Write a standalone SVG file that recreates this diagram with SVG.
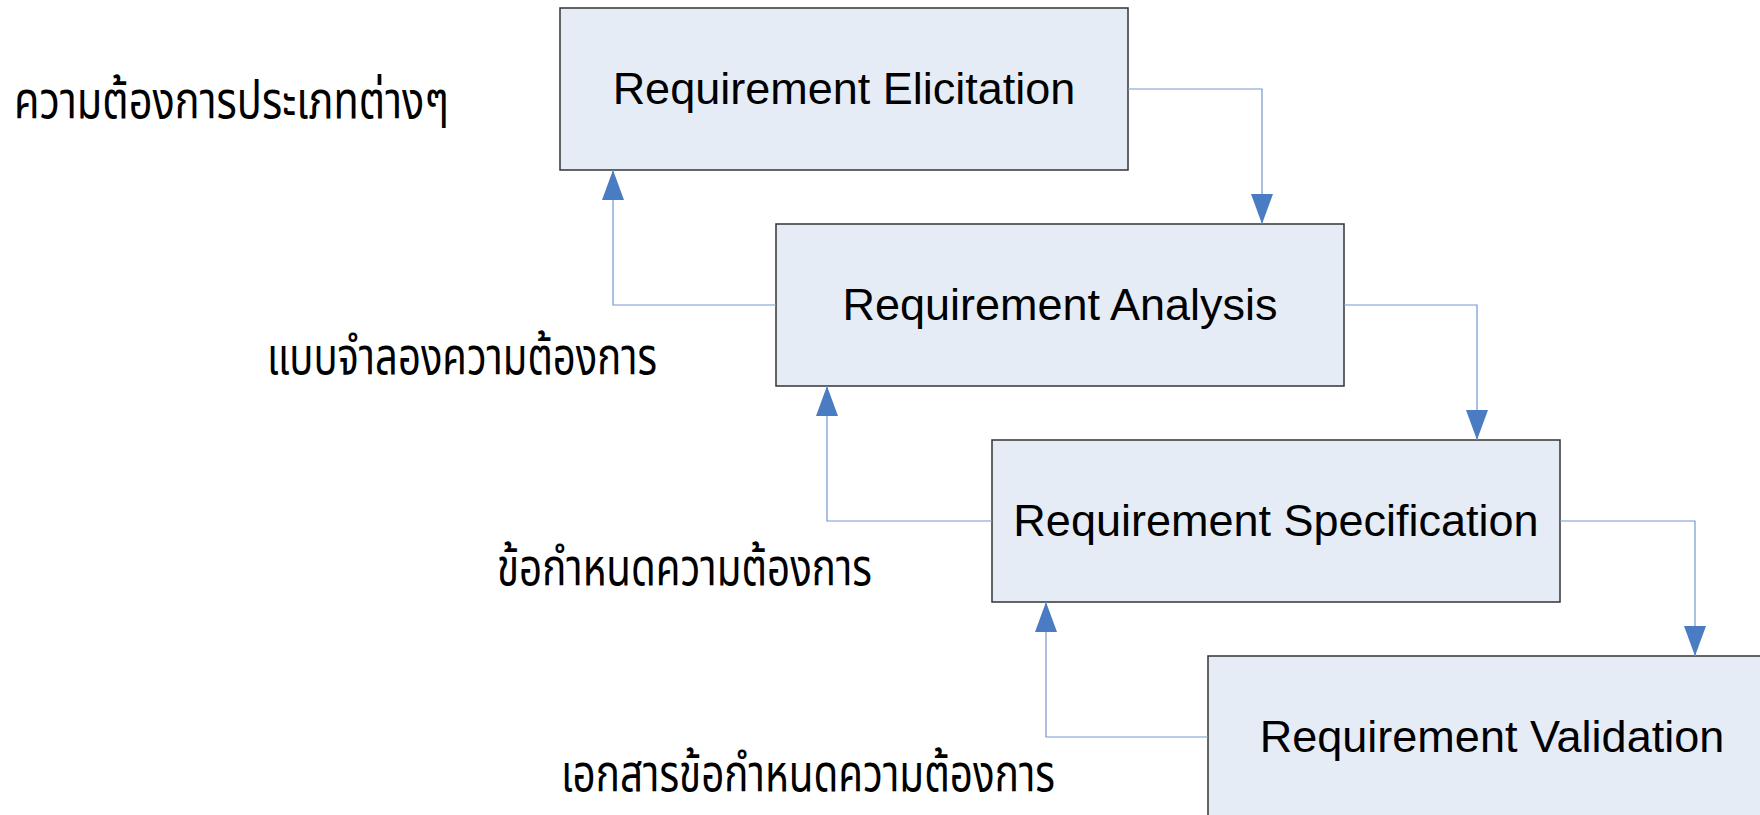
<svg xmlns="http://www.w3.org/2000/svg" width="1760" height="815" viewBox="0 0 1760 815">
  <style>
    .box { fill: #e6ecf6; stroke: #333333; stroke-width: 1.5; }
    .title { font-family: "Liberation Sans", Arial, sans-serif; font-size: 45px; fill: #000000; text-anchor: middle; }
    .thai { font-family: "Noto Sans Thai", "Noto Sans", "DejaVu Sans", sans-serif; font-size: 52px; fill: #000000; }
    .link { fill: none; stroke: #7397cf; stroke-width: 1.2; marker-end: url(#arrow); }
  </style>
  <defs>
    <marker id="arrow" markerUnits="userSpaceOnUse" markerWidth="30" markerHeight="22" refX="30" refY="11" orient="auto">
      <path d="M0,0 L30,11 L0,22 Z" fill="#4a7cc4"/>
    </marker>
  </defs>

  <rect width="1760" height="815" fill="#ffffff"/>

  <!-- process stages -->
  <g id="elicitation">
    <rect class="box" x="560" y="8" width="568" height="162"/>
    <text class="title" x="844" y="104">Requirement Elicitation</text>
  </g>
  <g id="analysis">
    <rect class="box" x="776" y="224" width="568" height="162"/>
    <text class="title" x="1060" y="320">Requirement Analysis</text>
  </g>
  <g id="specification">
    <rect class="box" x="992" y="440" width="568" height="162"/>
    <text class="title" x="1276" y="536">Requirement Specification</text>
  </g>
  <g id="validation">
    <rect class="box" x="1208" y="656" width="568" height="162"/>
    <text class="title" x="1492" y="752">Requirement Validation</text>
  </g>

  <!-- work products -->
  <g id="labels">
    <text class="thai" x="14" y="118" textLength="435" lengthAdjust="spacingAndGlyphs">ความต้องการประเภทต่างๆ</text>
    <text class="thai" x="267" y="374" textLength="390" lengthAdjust="spacingAndGlyphs">แบบจำลองความต้องการ</text>
    <text class="thai" x="497" y="585" textLength="375" lengthAdjust="spacingAndGlyphs">ข้อกำหนดความต้องการ</text>
    <text class="thai" x="561" y="791" textLength="494" lengthAdjust="spacingAndGlyphs">เอกสารข้อกำหนดความต้องการ</text>
  </g>

  <!-- forward and feedback flows -->
  <g id="connectors">
    <path class="link" d="M1128,89 H1262 V224"/>
    <path class="link" d="M776,305 H613 V170"/>
    <path class="link" d="M1344,305 H1477 V440"/>
    <path class="link" d="M992,521 H827 V386"/>
    <path class="link" d="M1560,521 H1695 V656"/>
    <path class="link" d="M1208,737 H1046 V602"/>
  </g>
</svg>
